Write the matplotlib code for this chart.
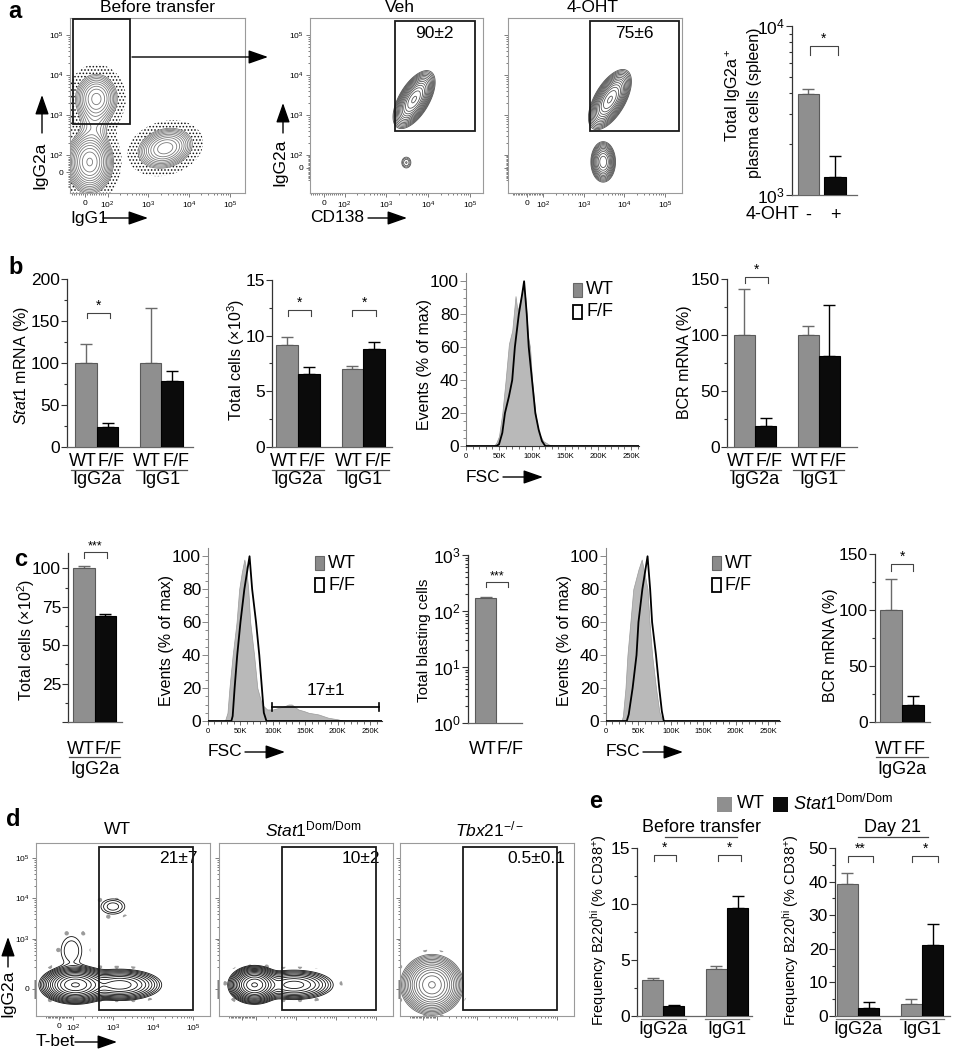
import numpy as np
import matplotlib.pyplot as plt
import matplotlib.transforms as mtransforms
from matplotlib.patches import Rectangle, FancyArrowPatch
from matplotlib.lines import Line2D

plt.rcParams['font.family'] = ['Liberation Sans', 'DejaVu Sans']
plt.rcParams['mathtext.fontset'] = 'custom'
plt.rcParams['mathtext.rm'] = 'Liberation Sans'
plt.rcParams['mathtext.it'] = 'Liberation Sans:italic'
plt.rcParams['mathtext.bf'] = 'Liberation Sans:bold'
plt.rcParams['hatch.linewidth'] = 0.7

W, H = 960, 1050
GRAY = '#8f8f8f'
GRAY_EDGE = '#5a5a5a'
BLACK = '#0b0b0b'
FILL = '#b9b9b9'

# ---------------- data ----------------
# a: total IgG2a+ plasma cells (spleen), vehicle vs 4-OHT
a_oht = ['-', '+']
a_cells = [3950, 1280]
a_sem = [280, 420]
a_gate = ['90±2', '75±6']

# b: WT vs F/F within IgG2a and IgG1
b_groups = ['IgG2a', 'IgG1']
b_stat1 = [100, 24, 100, 79]
b_stat1_sem = [23, 5, 65, 11]
b_cells = [9.2, 6.6, 7.0, 8.8]
b_cells_sem = [0.7, 0.55, 0.25, 0.6]
b_bcr = [100, 19, 100, 81]
b_bcr_sem = [41, 7, 8, 46]

# b histogram, FSC (K) vs events (% of max)
b_wt_fsc = [0, 42, 46, 50, 55, 60, 65, 70, 75, 78, 82, 86, 90, 94, 97, 100, 105, 110, 117, 125, 132, 262]
b_wt_evt = [0, 0, 2, 6, 20, 40, 62, 70, 91, 82, 88, 96, 90, 66, 60, 40, 20, 8, 3, 1, 0, 0]
b_ff_fsc = [0, 46, 50, 55, 59, 65, 70, 74, 80, 85, 88, 92, 95, 100, 105, 110, 115, 120, 262]
b_ff_evt = [0, 0, 1, 8, 20, 30, 40, 60, 80, 92, 100, 80, 60, 40, 20, 10, 3, 0, 0]

# c
c_cells = [100, 69]
c_cells_sem = [1.3, 1.5]
c_blast = [170, 0]
c_blast_sem = [6, 0]
c_bcr = [100, 15]
c_bcr_sem = [28, 8]
c_gate = '17±1'

c1_wt_fsc = [0, 26, 30, 33, 38, 44, 48, 52, 56, 59, 62, 65, 71, 76, 83, 91, 100, 109, 118, 124, 129, 139, 148, 155, 170, 185, 200, 210, 268]
c1_wt_evt = [0, 0, 5, 20, 40, 60, 80, 90, 98, 92, 80, 60, 40, 20, 10, 7, 7, 8, 9, 10, 10, 7, 6, 5, 4, 2, 1, 0, 0]
c1_ff_fsc = [0, 36, 38, 41, 45, 50, 56, 60, 64, 68, 74, 79, 83, 86, 90, 268]
c1_ff_evt = [0, 0, 3, 20, 40, 60, 80, 90, 100, 80, 60, 40, 20, 5, 0, 0]
c2_wt_fsc = [0, 24, 26, 30, 33, 38, 42, 50, 55, 60, 64, 67, 71, 77, 82, 85, 90, 268]
c2_wt_evt = [0, 0, 3, 20, 40, 62, 80, 92, 98, 88, 80, 60, 40, 20, 6, 2, 0, 0]
c2_ff_fsc = [0, 32, 35, 41, 47, 50, 56, 60, 64, 68, 71, 77, 82, 86, 89, 268]
c2_ff_evt = [0, 0, 4, 20, 40, 60, 80, 90, 100, 80, 60, 40, 20, 6, 0, 0]

# d gate values
d_titles = ['WT', '$\\mathit{Stat1}^{\\mathrm{Dom/Dom}}$', '$\\mathit{Tbx21}^{\\mathrm{-/-}}$']
d_gate = ['21±7', '10±2', '0.5±0.1']

# e: frequency B220hi (% CD38+)
e_groups = ['IgG2a', 'IgG1']
e_before = [3.2, 0.85, 4.2, 9.6]
e_before_sem = [0.15, 0.1, 0.25, 1.1]
e_day21 = [39.3, 2.4, 3.5, 21.2]
e_day21_sem = [3.2, 1.7, 1.5, 6.1]

# flow populations: (centre x, centre y, sd x, sd y [decades], correlation, weight)
pop_before = [(20, 60, 0.22, 0.3, 0.0, 1.0), (50, 2600, 0.22, 0.26, 0.0, 0.45),
              (40, 600, 0.2, 0.3, 0.0, 0.08), (2600, 150, 0.28, 0.21, 0.2, 0.5)]
pop_veh = [(4600, 2400, 0.18, 0.26, 0.6, 1.0), (3000, 40, 0.08, 0.1, 0.0, 0.05)]
pop_oht = [(4400, 2400, 0.19, 0.27, 0.6, 1.0), (3000, 45, 0.12, 0.2, 0.0, 0.5)]
pop_d_wt = [(115, 40, 0.3, 0.16, 0.0, 1.0), (1500, 40, 0.4, 0.15, 0.0, 0.3),
            (1000, 6300, 0.22, 0.14, 0.0, 0.025), (90, 500, 0.22, 0.3, 0.0, 0.02)]
pop_d_stat1 = [(90, 40, 0.22, 0.16, 0.0, 1.0), (900, 40, 0.4, 0.15, 0.0, 0.2)]
pop_d_tbx = [(65, 40, 0.26, 0.25, 0.0, 1.0)]

fig = plt.figure(figsize=(W / 100, H / 100), dpi=100)


def ax_px(x0, y0, x1, y1):
    return fig.add_axes([x0 / W, 1 - y1 / H, (x1 - x0) / W, (y1 - y0) / H])


def ftext(x, y, s, **kw):
    kw.setdefault('ha', 'center')
    kw.setdefault('va', 'center')
    fig.text(x / W, 1 - y / H, s, **kw)


def farrow(x0, y0, x1, y1, lw=1.0):
    fig.add_artist(FancyArrowPatch((x0 / W, 1 - y0 / H), (x1 / W, 1 - y1 / H),
                                   transform=fig.transFigure, arrowstyle='-|>,head_length=0.8,head_width=0.28',
                                   mutation_scale=15, color='k', lw=lw, shrinkA=0, shrinkB=0))


def fline(x0, y0, x1, y1, color='#444', lw=0.9):
    fig.add_artist(Line2D([x0 / W, x1 / W], [1 - y0 / H, 1 - y1 / H], transform=fig.transFigure,
                          color=color, lw=lw))


# ---------- flow helpers ----------
def t_fwd(v, L):
    v = np.asarray(v, float)
    a = np.abs(v)
    return np.where(a <= 100, v / 100 * L, np.sign(v) * (L + np.log10(np.maximum(a, 1e-9) / 100)))


def t_inv(t, L):
    t = np.asarray(t, float)
    a = np.abs(t)
    return np.where(a <= L, t / L * 100, np.sign(t) * 100 * 10 ** (a - L))


def density(pops, Lx, Ly, xlim, ylim, n=320):
    tx = np.linspace(t_fwd(xlim[0], Lx), t_fwd(xlim[1], Lx), n)
    ty = np.linspace(t_fwd(ylim[0], Ly), t_fwd(ylim[1], Ly), n)
    TX, TY = np.meshgrid(tx, ty)
    Z = np.zeros_like(TX)
    for cx, cy, sx, sy, rho, w in pops:
        dx = (TX - t_fwd(cx, Lx)) / sx
        dy = (TY - t_fwd(cy, Ly)) / sy
        Z += w * np.exp(-0.5 * (dx ** 2 - 2 * rho * dx * dy + dy ** 2) / (1 - rho ** 2))
    return t_inv(TX, Lx), t_inv(TY, Ly), Z


def flow_plot(box, Lx, Ly, xlim, ylim, pops, lo, nlev, color, xlab=True, ylab=True,
              yticks=(0, 1e2, 1e3, 1e4, 1e5), stip=None):
    ax = ax_px(*box)
    ax.set_xscale('symlog', linthresh=100, linscale=0.9 * Lx)
    ax.set_yscale('symlog', linthresh=100, linscale=0.9 * Ly)
    X, Y, Z = density(pops, Lx, Ly, xlim, ylim)
    zmax = Z.max()
    if stip is not None:
        s_lo, s_hi, hatch, scol = stip
        with plt.rc_context({'hatch.color': scol}):
            ax.contourf(X, Y, Z, levels=[zmax * s_lo, zmax * s_hi], colors='none', hatches=[hatch])
    ax.contour(X, Y, Z, levels=zmax * np.geomspace(lo, 0.95, nlev), colors=color, linewidths=0.6)
    ax.set_xlim(xlim)
    ax.set_ylim(ylim)
    major = [0, 1e2, 1e3, 1e4, 1e5]
    labs = ['0', '$10^2$', '$10^3$', '$10^4$', '$10^5$']
    minor = [k * 10 ** d for d in (2, 3, 4) for k in range(2, 10)] + [k * 10 for k in range(1, 10)] + \
            [-k * 10 for k in range(1, 10)]
    ax.set_xticks(major)
    ax.set_xticklabels(labs if xlab else [''] * 5)
    ax.set_yticks(list(yticks))
    ylabs = [labs[major.index(v)] for v in yticks]
    ax.set_yticklabels(ylabs if ylab else [''] * len(yticks))
    ax.set_xticks([m for m in minor if xlim[0] < m < xlim[1]], minor=True)
    ax.set_yticks([m for m in minor if ylim[0] < m < ylim[1]], minor=True)
    ax.tick_params(which='both', labelsize=6, color='#666', width=0.6, pad=2)
    ax.tick_params(which='major', length=3)
    ax.tick_params(which='minor', length=1.5)
    for s in ax.spines.values():
        s.set_color('#9a9a9a')
        s.set_linewidth(0.8)
    return ax


def gate(ax, x0, x1, y0, y1, txt=None, tx=None, ty=None):
    ax.add_patch(Rectangle((x0, y0), x1 - x0, y1 - y0, fill=False, ec='#1a1a1a', lw=1.3, zorder=5))
    if txt:
        ax.text(tx, ty, txt, fontsize=12.5, ha='center', va='center')


# ---------- bar helpers ----------
def bar_axes(box, ylim, yticks, minor=None, xlim=(-0.45, 1.5), log=False, labels=None):
    ax = ax_px(*box)
    if log:
        ax.set_yscale('log')
    ax.set_ylim(ylim)
    ax.set_xlim(xlim)
    ax.set_yticks(yticks)
    if labels is not None:
        ax.set_yticklabels(labels)
    if minor is not None:
        ax.set_yticks(minor, minor=True)
    for s in ['top', 'right']:
        ax.spines[s].set_visible(False)
    ax.spines['left'].set_color('#333')
    ax.spines['bottom'].set_color('#666')
    ax.spines['left'].set_linewidth(0.9)
    ax.spines['bottom'].set_linewidth(0.9)
    ax.tick_params(axis='x', length=0, labelbottom=False)
    ax.tick_params(axis='y', which='both', labelsize=12.5, color='#333', width=0.8, pad=1)
    ax.tick_params(axis='y', which='major', length=4)
    ax.tick_params(axis='y', which='minor', length=2.5, labelleft=False)
    return ax


def draw_bars(ax, xs, means, sems, width):
    for i, (x, m, s) in enumerate(zip(xs, means, sems)):
        fc, ec = (GRAY, GRAY_EDGE) if i % 2 == 0 else (BLACK, '#000')
        ax.bar(x, m, width, color=fc, edgecolor=ec, linewidth=0.8, zorder=3)
        if s > 0:
            ax.errorbar(x, m, yerr=[[0], [s]], fmt='none', ecolor=ec if i % 2 else '#6a6a6a',
                        elinewidth=1.0, capsize=4, capthick=1.0, zorder=2)


def bracket(ax, x0, x1, y, h, txt, fs=10):
    ax.plot([x0, x0, x1, x1], [y - h, y, y, y - h], color='#444', lw=0.8, clip_on=False)
    ax.text((x0 + x1) / 2, y, txt, ha='center', va='bottom', fontsize=fs, clip_on=False)


def off(ax, dy):
    return mtransforms.offset_copy(ax.get_xaxis_transform(), fig=fig, x=0, y=-dy, units='dots')


def group_labels(ax, centers, groups, subs, half, lhalf, d1, d2, d3):
    for c, g in zip(centers, groups):
        ax.text(c - half, 0, subs[0], transform=off(ax, d1), ha='center', va='center', fontsize=13)
        ax.text(c + half, 0, subs[1], transform=off(ax, d1), ha='center', va='center', fontsize=13)
        if g:
            ax.plot([c - lhalf, c + lhalf], [0, 0], transform=off(ax, d2), color='#555', lw=0.9, clip_on=False)
            ax.text(c, 0, g, transform=off(ax, d3), ha='center', va='center', fontsize=13)


def hist_axes(box, xmax, wt_x, wt_y, ff_x, ff_y):
    ax = ax_px(*box)
    ax.fill_between(wt_x, wt_y, color=FILL, edgecolor='#9a9a9a', lw=0.5, zorder=2)
    ax.plot(ff_x, ff_y, color='k', lw=1.3, zorder=3)
    ax.set_xlim(0, xmax)
    ax.set_ylim(0, 105)
    ax.set_yticks([0, 20, 40, 60, 80, 100])
    ax.set_yticks(np.arange(0, 105, 5), minor=True)
    ax.set_xticks([0, 50, 100, 150, 200, 250])
    ax.set_xticklabels(['0', '50K', '100K', '150K', '200K', '250K'])
    ax.set_xticks(np.arange(0, xmax, 10), minor=True)
    for s in ['top', 'right']:
        ax.spines[s].set_visible(False)
    ax.spines['left'].set_color('#888')
    ax.spines['bottom'].set_color('#333')
    ax.tick_params(axis='y', which='both', labelsize=12.5, color='#888', width=0.7, pad=1)
    ax.tick_params(axis='y', which='major', length=4)
    ax.tick_params(axis='y', which='minor', length=2)
    ax.tick_params(axis='x', which='both', labelsize=5.5, color='#555', width=0.6, pad=2)
    ax.tick_params(axis='x', which='major', length=3)
    ax.tick_params(axis='x', which='minor', length=2)
    return ax


def hist_legend(x, y):
    fig.add_artist(Rectangle((x / W, 1 - (y + 14) / H), 9 / W, 14 / H, transform=fig.transFigure,
                             fc='#8a8a8a', ec='#666', lw=0.8))
    fig.add_artist(Rectangle((x / W, 1 - (y + 36) / H), 9 / W, 14 / H, transform=fig.transFigure,
                             fc='white', ec='k', lw=1.3))
    ftext(x + 13, y + 7, 'WT', fontsize=13, ha='left')
    ftext(x + 13, y + 29, 'F/F', fontsize=13, ha='left')


# ======================= panel a =======================
ftext(15, 11, 'a', fontsize=17, fontweight='bold')
ftext(158, 7, 'Before transfer', fontsize=12.5)
ftext(400, 7, 'Veh', fontsize=12.5)
ftext(593, 7, '4-OHT', fontsize=12.5)

ax = flow_plot((70, 18, 245, 193), 0.55, 0.42, (-68, 2.37e5), (-126, 2.66e5), pop_before, 0.03, 13, '#7a7a7a',
               stip=(0.002, 0.03, '.....', '#111'))
gate(ax, -55, 360, 600, 2.45e5)
farrow(132, 57, 268, 57)

ax = flow_plot((310, 18, 483, 193), 0.5, 0.33, (-65, 2.04e5), (-200, 2.66e5), pop_veh, 0.02, 14, '#555')
gate(ax, 1600, 1.3e5, 400, 2.2e5, a_gate[0], 14000, 1.1e5)

ax = flow_plot((508, 18, 682, 193), 0.4, 0.33, (-119, 2.66e5), (-200, 2.66e5), pop_oht, 0.02, 14, '#555',
               ylab=False)
gate(ax, 1400, 2.3e5, 400, 2.2e5, a_gate[1], 18000, 1.1e5)

ftext(40, 165, 'IgG2a', fontsize=12.5, rotation=90)
farrow(42, 133, 42, 95)
ftext(70, 218, 'IgG1', fontsize=12.5, ha='left')
farrow(103, 218, 148, 218)
ftext(280, 162, 'IgG2a', fontsize=12.5, rotation=90)
farrow(283, 133, 283, 103)
ftext(310, 218, 'CD138', fontsize=12.5, ha='left')
farrow(368, 218, 407, 218)

ax = bar_axes((792, 26, 857, 195), (1e3, 1e4), [1e3, 1e4],
              minor=[k * 1e3 for k in range(2, 10)], xlim=(-0.62, 1.83), log=True,
              labels=['$10^3$', '$10^4$'])
draw_bars(ax, [0, 1], a_cells, a_sem, 0.8)
bracket(ax, 0.05, 1.1, 7600, 900, '*')
for x, s in zip([0, 1], a_oht):
    ax.text(x, 0, s, transform=off(ax, 20), ha='center', va='center', fontsize=13)
ftext(772, 215, '4-OHT', fontsize=13)
ftext(733, 95, 'Total IgG2a$^+$', fontsize=11.5, rotation=90)
ftext(754, 103, 'plasma cells (spleen)', fontsize=11.5, rotation=90)

# ======================= panel b =======================
ftext(16, 268, 'b', fontsize=17, fontweight='bold')
pos4 = [-1 / 6, 1 / 6, 5 / 6, 7 / 6]

ax = bar_axes((67, 279, 193, 447), (0, 200), [0, 50, 100, 150, 200], minor=np.arange(0, 201, 25),
              xlim=(-0.465, 1.49))
draw_bars(ax, pos4, b_stat1, b_stat1_sem, 1 / 3)
bracket(ax, -0.15, 0.2, 160, 7, '*')
group_labels(ax, [0, 1], b_groups, ('WT', 'F/F'), 0.22, 0.4, 15, 23, 33)
ftext(22, 365, '$\\mathit{Stat1}$ mRNA (%)', fontsize=11.5, rotation=90)

ax = bar_axes((272, 280, 392, 447), (0, 15), [0, 5, 10, 15], minor=np.arange(0, 15.1, 2.5),
              xlim=(-0.4, 1.44))
draw_bars(ax, pos4, b_cells, b_cells_sem, 1 / 3)
bracket(ax, -0.15, 0.2, 12.3, 0.55, '*')
bracket(ax, 0.83, 1.2, 12.3, 0.55, '*')
group_labels(ax, [0, 1], b_groups, ('WT', 'F/F'), 0.22, 0.4, 15, 23, 33)
ftext(236, 360, 'Total cells (×10$^3$)', fontsize=11.5, rotation=90)

ax = hist_axes((466, 273, 639, 446), 262, b_wt_fsc, b_wt_evt, b_ff_fsc, b_ff_evt)
hist_legend(573, 283)
ftext(425, 364, 'Events (% of max)', fontsize=11.5, rotation=90)
ftext(466, 477, 'FSC', fontsize=12.5, ha='left')
farrow(503, 477, 543, 477)

ax = bar_axes((727, 279, 857, 447), (0, 150), [0, 50, 100, 150], minor=np.arange(0, 151, 25),
              xlim=(-0.44, 1.6))
draw_bars(ax, pos4, b_bcr, b_bcr_sem, 1 / 3)
bracket(ax, -0.15, 0.2, 152, 6, '*')
group_labels(ax, [0, 1], b_groups, ('WT', 'F/F'), 0.22, 0.4, 15, 23, 33)
ftext(684, 362, 'BCR mRNA (%)', fontsize=11.5, rotation=90)

# ======================= panel c =======================
ftext(21, 560, 'c', fontsize=17, fontweight='bold')

ax = bar_axes((68, 553, 122, 722), (0, 110), [0, 25, 50, 75, 100], minor=np.arange(0, 110, 12.5),
              xlim=(-0.74, 1.77), labels=['', '25', '50', '75', '100'])
draw_bars(ax, [0, 1], c_cells, c_cells_sem, 1.0)
bracket(ax, 0.0, 1.05, 110.6, 4, '***', fs=9)
group_labels(ax, [0.5], ['IgG2a'], ('WT', 'F/F'), 0.62, 1.2, 27, 35, 48)
ftext(26, 640, 'Total cells (×10$^2$)', fontsize=11.5, rotation=90)

ax = hist_axes((208, 548, 382, 721), 268, c1_wt_fsc, c1_wt_evt, c1_ff_fsc, c1_ff_evt)
ax.plot([98, 264], [8.5, 8.5], color='k', lw=1.2, clip_on=False)
ax.plot([98, 98], [6, 11], color='k', lw=1.2)
ax.plot([264, 264], [6, 11], color='k', lw=1.2, clip_on=False)
ax.text(181, 14, c_gate, ha='center', va='bottom', fontsize=12.5)
hist_legend(315, 556)
ftext(167, 640, 'Events (% of max)', fontsize=11.5, rotation=90)
ftext(208, 752, 'FSC', fontsize=12.5, ha='left')
farrow(245, 752, 285, 752)

ax = bar_axes((468, 555, 522, 723), (1, 1000), [1, 10, 100, 1000],
              minor=[k * 10 ** d for d in (0, 1, 2) for k in range(2, 10)], xlim=(-0.83, 1.7), log=True,
              labels=['$10^0$', '$10^1$', '$10^2$', '$10^3$'])
draw_bars(ax, [0, 1], c_blast, c_blast_sem, 1.0)
bracket(ax, 0.0, 1.05, 330, 60, '***', fs=9)
group_labels(ax, [0.5], [None], ('WT', 'F/F'), 0.62, 1.2, 26, 34, 47)
ftext(424, 640, 'Total blasting cells', fontsize=11, rotation=90)

ax = hist_axes((606, 548, 780, 721), 268, c2_wt_fsc, c2_wt_evt, c2_ff_fsc, c2_ff_evt)
hist_legend(712, 556)
ftext(565, 640, 'Events (% of max)', fontsize=11.5, rotation=90)
ftext(606, 752, 'FSC', fontsize=12.5, ha='left')
farrow(643, 752, 683, 752)

ax = bar_axes((875, 554, 930, 722), (0, 150), [0, 50, 100, 150], minor=np.arange(0, 151, 25),
              xlim=(-0.73, 1.77))
draw_bars(ax, [0, 1], c_bcr, c_bcr_sem, 1.0)
bracket(ax, 0.0, 1.0, 141, 6, '*')
group_labels(ax, [0.5], ['IgG2a'], ('WT', 'FF'), 0.58, 1.2, 27, 35, 48)
ftext(831, 645, 'BCR mRNA (%)', fontsize=11.5, rotation=90)

# ======================= panel d =======================
ftext(13, 820, 'd', fontsize=17, fontweight='bold')
d_boxes = [(36, 843, 210, 1016), (219, 843, 393, 1016), (400, 843, 574, 1016)]
d_pops = [pop_d_wt, pop_d_stat1, pop_d_tbx]
d_cols = ['#111', '#111', '#666']
d_title_x = [117, 313, 490]
d_text_x = [4.3e4, 4.3e4, 3.0e4]
for i in range(3):
    ax = flow_plot(d_boxes[i], 0.35, 0.25, (-166, 2.66e5), (-266, 2.4e5), d_pops[i], 0.01, 14, d_cols[i],
                   xlab=(i == 0), ylab=(i == 0), yticks=(0, 1e3, 1e4, 1e5),
                   stip=(0.002, 0.01, '.', '#9a9a9a'))
    gate(ax, 450, 1.0e5, -190, 1.9e5, d_gate[i], d_text_x[i], 1.0e5)
    ftext(d_title_x[i], 829, d_titles[i], fontsize=12.5)
ftext(8, 993, 'IgG2a', fontsize=12.5, rotation=90)
farrow(8, 967, 8, 937)
ftext(36, 1042, 'T-bet', fontsize=12.5, ha='left')
farrow(75, 1042, 117, 1042)

# ======================= panel e =======================
ftext(596, 801, 'e', fontsize=17, fontweight='bold')
fig.add_artist(Rectangle((717 / W, 1 - 812 / H), 15 / W, 15 / H, transform=fig.transFigure, fc=GRAY, ec='none'))
fig.add_artist(Rectangle((773 / W, 1 - 812 / H), 15 / W, 15 / H, transform=fig.transFigure, fc=BLACK, ec='none'))
ftext(737, 804, 'WT', fontsize=13, ha='left')
ftext(793, 804, '$\\mathit{Stat1}^{\\mathrm{Dom/Dom}}$', fontsize=13, ha='left')

ax = bar_axes((637, 848, 752, 1016), (0, 15), [0, 5, 10, 15], minor=np.arange(0, 15.1, 2.5),
              xlim=(-0.41, 1.39))
draw_bars(ax, pos4, e_before, e_before_sem, 1 / 3)
bracket(ax, -0.15, 0.2, 14.4, 0.55, '*')
bracket(ax, 0.85, 1.22, 14.4, 0.55, '*')
for c, g in zip([0, 1], e_groups):
    ax.plot([c - 0.35, c + 0.35], [0, 0], transform=off(ax, 3), color='#777', lw=0.9, clip_on=False)
    ax.text(c, 0, g, transform=off(ax, 13), ha='center', va='center', fontsize=13)
ftext(701, 827, 'Before transfer', fontsize=13)
fline(665, 837, 737, 837)
ftext(599, 930, 'Frequency B220$^{\\mathrm{hi}}$ (% CD38$^{+}$)', fontsize=10.5, rotation=90)

ax = bar_axes((835, 848, 950, 1016), (0, 50), [0, 10, 20, 30, 40, 50], minor=np.arange(0, 51, 5),
              xlim=(-0.36, 1.44))
draw_bars(ax, pos4, e_day21, e_day21_sem, 1 / 3)
bracket(ax, -0.15, 0.23, 47.6, 1.8, '**')
bracket(ax, 0.85, 1.25, 47.6, 1.8, '*')
for c, g in zip([0, 1], e_groups):
    ax.plot([c - 0.35, c + 0.35], [0, 0], transform=off(ax, 3), color='#777', lw=0.9, clip_on=False)
    ax.text(c, 0, g, transform=off(ax, 13), ha='center', va='center', fontsize=13)
ftext(892, 827, 'Day 21', fontsize=13)
fline(858, 837, 928, 837)
ftext(791, 930, 'Frequency B220$^{\\mathrm{hi}}$ (% CD38$^{+}$)', fontsize=10.5, rotation=90)

fig.savefig('out.png', dpi=100)
